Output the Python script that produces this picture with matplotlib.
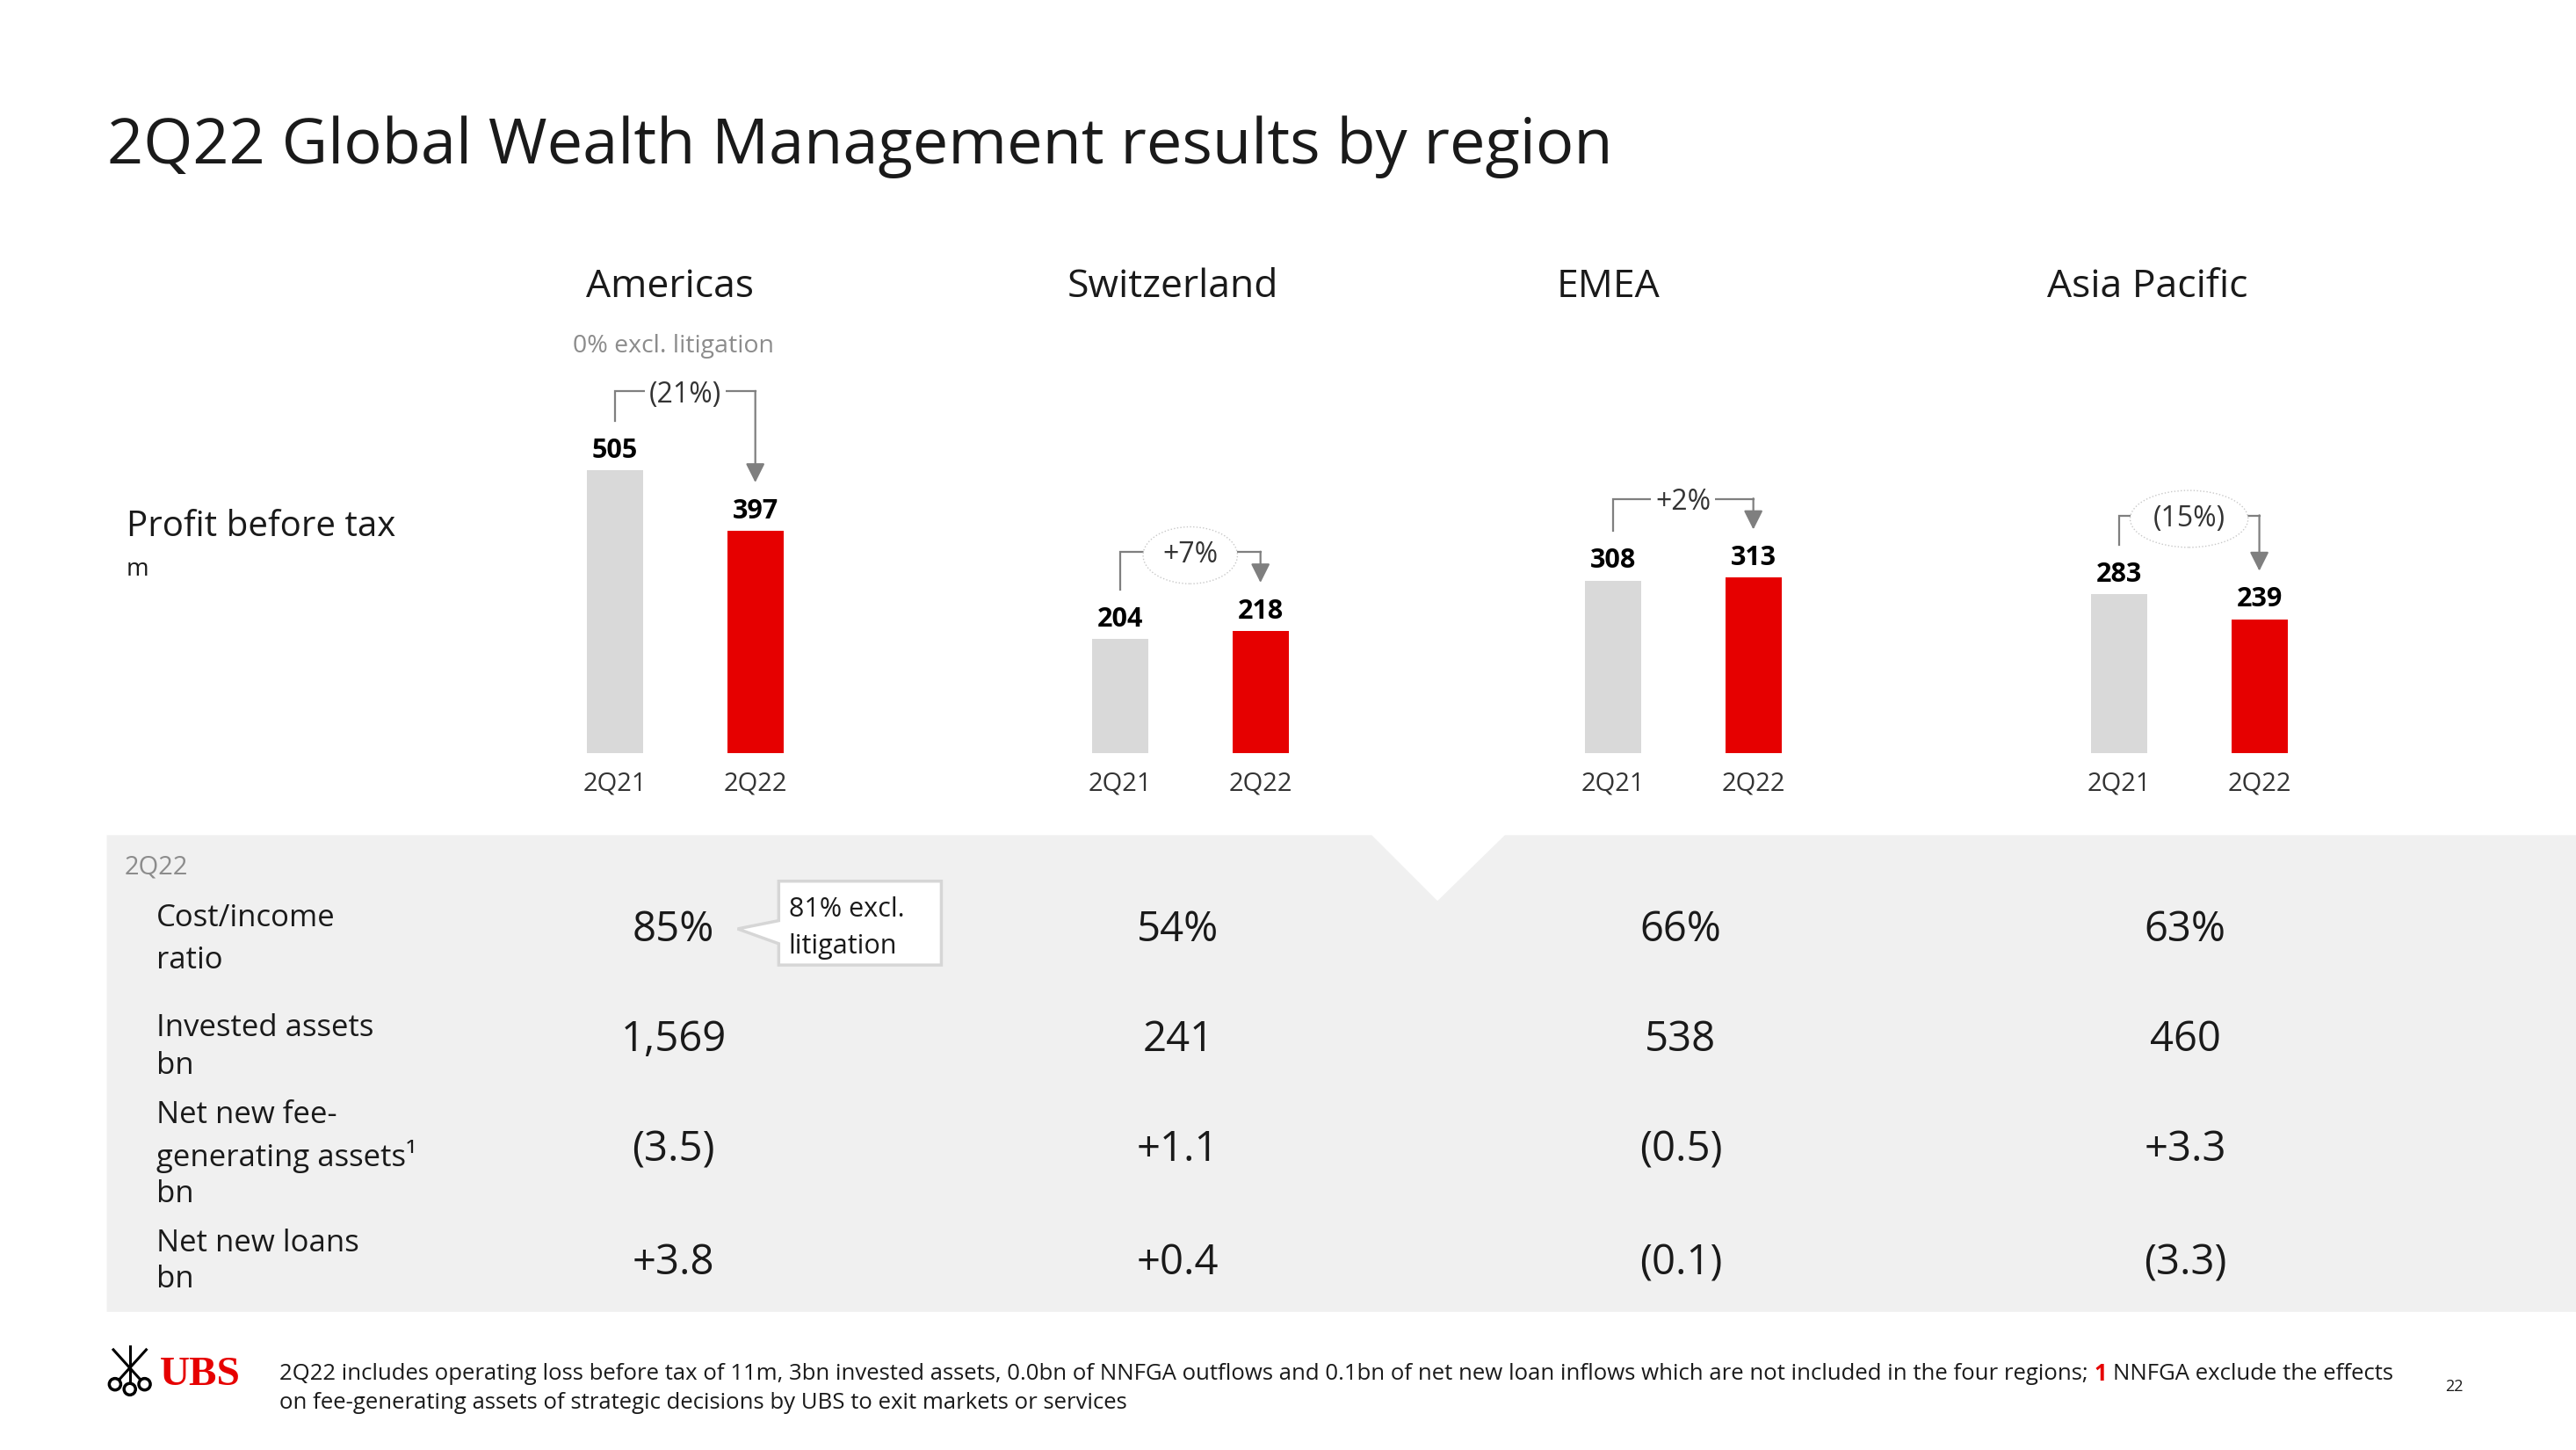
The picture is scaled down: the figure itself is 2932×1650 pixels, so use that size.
import matplotlib
matplotlib.use("Agg")
import matplotlib.pyplot as plt
from matplotlib.patches import Polygon, Ellipse
from matplotlib.lines import Line2D

plt.rcParams['font.family'] = ['Open Sans', 'DejaVu Sans']

# data
regions = ['Americas', 'Switzerland', 'EMEA', 'Asia Pacific']
quarters = ['2Q21', '2Q22']
pbt_2q21 = [505, 204, 308, 283]
pbt_2q22 = [397, 218, 313, 239]
pbt_change = ['(21%)', '+7%', '+2%', '(15%)']
change_ellipse = [False, True, False, True]

row_labels = [['Cost/income', 'ratio'],
              ['Invested assets', 'bn'],
              ['Net new fee-', 'generating assets\u00b9', 'bn'],
              ['Net new loans', 'bn']]
cost_income = ['85%', '54%', '66%', '63%']
invested_assets = ['1,569', '241', '538', '460']
nnfga = ['(3.5)', '+1.1', '(0.5)', '+3.3']
net_new_loans = ['+3.8', '+0.4', '(0.1)', '(3.3)']

RED = '#e60000'
GREY_BAR = '#d9d9d9'
LINE = '#7f7f7f'
TXT = '#1a1a1a'
GREY_TXT = '#8c8c8c'
PANEL = '#f0f0f0'

W, H = 1568, 882   # layout grid (reference pixels)
TY = 2.5           # Open Sans sits a bit high with va='center'


def fx(x):
    return x / W


def fy(y):
    return 1 - y / H


def fyt(y):
    return 1 - (y + TY) / H


fig = plt.figure(figsize=(29.32, 16.5), dpi=100)
fig.patch.set_facecolor('white')

fig.text(fx(65), fyt(87), '2Q22 Global Wealth Management results by region',
         fontsize=52, color=TXT, ha='left', va='center')

# region headers
header_x = [408, 714, 979, 1307]
for name, hx in zip(regions, header_x):
    fig.text(fx(hx), fyt(172), name, fontsize=32, color=TXT, ha='center', va='center')
fig.text(fx(410), fyt(208), '0% excl. litigation', fontsize=20.5, color=GREY_TXT,
         ha='center', va='center')

fig.text(fx(77), fyt(318), 'Profit before tax', fontsize=29, color=TXT, va='center')
fig.text(fx(77), fyt(344), 'm', fontsize=20, color=TXT, va='center')

# bar panels: one axes per region, same y scale
scale = 0.3406          # layout px per CHF m
ymax = 700
ax_left = [331.5, 639, 939, 1247]
unit_px = 85.5
for i in range(len(regions)):
    left = ax_left[i]
    ax = fig.add_axes([fx(left), fy(458), (2 * unit_px) / W, ymax * scale / H])
    ax.set_xlim(-0.5, 1.5)
    ax.set_ylim(0, ymax)
    a, b = pbt_2q21[i], pbt_2q22[i]
    ax.bar([0, 1], [a, b], width=0.4, color=[GREY_BAR, RED])
    for xv, v in zip([0, 1], [a, b]):
        ax.text(xv, v + 35, str(v), ha='center', va='center', fontsize=22,
                fontweight='bold', color='black')
    top = max(a, b) + 141
    ax.plot([0, 0, 1], [a + 88, top, top], color=LINE, lw=1.6, clip_on=False,
            solid_joinstyle='miter')
    ax.annotate('', xy=(1, b + 86), xytext=(1, top + 0.5),
                arrowprops=dict(arrowstyle='-|>,head_length=0.6,head_width=0.3',
                                color=LINE, lw=1.6, shrinkA=0, shrinkB=0,
                                mutation_scale=22), annotation_clip=False)
    if change_ellipse[i]:
        box = dict(boxstyle='ellipse,pad=0.2', fc='white', ec='#c8c8c8', lw=1, ls=':')
    else:
        box = dict(boxstyle='square,pad=0.15', fc='white', ec='none')
    ax.text(0.5, top - 6, pbt_change[i], ha='center', va='center', fontsize=23,
            color='#333333', bbox=box, zorder=5)
    ax.set_xticks([0, 1])
    ax.set_xticklabels(quarters, fontsize=21, color='#333333')
    ax.tick_params(axis='x', length=0, pad=15)
    ax.set_yticks([])
    for s in ax.spines.values():
        s.set_visible(False)
    ax.patch.set_alpha(0)

# table panel with notch
pts = [(65, 508), (835, 508), (875, 548), (916, 508), (1568, 508), (1568, 798), (65, 798)]
fig.patches.append(Polygon([(fx(x), fy(y)) for x, y in pts], closed=True,
                           transform=fig.transFigure, fc=PANEL, ec='none', zorder=0))
fig.text(fx(76), fyt(525), '2Q22', fontsize=21, color=GREY_TXT, va='center')

label_y = [[556, 582], [623, 646], [676, 701, 724], [754, 776]]
for lines, ys in zip(row_labels, label_y):
    for txt, yy in zip(lines, ys):
        fig.text(fx(95), fyt(yy), txt, fontsize=25, color=TXT, va='center')

col_x = [410, 717, 1023, 1330]
row_y = [563, 630, 697, 766]
for vals, yy in zip([cost_income, invested_assets, nnfga, net_new_loans], row_y):
    for v, cx in zip(vals, col_x):
        fig.text(fx(cx), fyt(yy), v, fontsize=34, color=TXT, ha='center', va='center')

# callout
call = [(474, 536), (573, 536), (573, 587), (474, 587), (474, 574), (449, 565), (474, 560)]
fig.patches.append(Polygon([(fx(x), fy(y)) for x, y in call], closed=True,
                           transform=fig.transFigure, fc='white', ec='#d6d6d6',
                           lw=2.5, zorder=1, joinstyle='miter'))
fig.text(fx(480), fyt(551), '81% excl.', fontsize=22, color=TXT, va='center')
fig.text(fx(480), fyt(573), 'litigation', fontsize=22, color=TXT, va='center')

# UBS logo (keys + wordmark)
for (x0, y0, x1, y1) in [(70, 842, 89, 821), (88, 842, 69, 821), (79, 845, 79, 819)]:
    fig.lines.append(Line2D([fx(x0), fx(x1)], [fy(y0), fy(y1)], transform=fig.transFigure,
                            color='black', lw=2.2))
for (cx, cy) in [(70, 842), (88, 842), (79, 845)]:
    fig.patches.append(Ellipse((fx(cx), fy(cy)), 7 / W, 7 / H, transform=fig.transFigure,
                               fc='white', ec='black', lw=2.5, zorder=3))
fig.text(fx(97), fyt(834), 'UBS', fontsize=34, fontweight='bold', color=RED,
         family='Liberation Serif', va='center')

# footnote with red "1"
FOOT_FS = 18.5
foot_kw = dict(fontsize=FOOT_FS, color=TXT, va='center')
part1 = ('2Q22 includes operating loss before tax of 11m, 3bn invested assets, 0.0bn of NNFGA '
         'outflows and 0.1bn of net new loan inflows which are not included in the four regions;')
part3 = 'NNFGA exclude the effects'
line2 = 'on fee-generating assets of strategic decisions by UBS to exit markets or services'

rend = fig.canvas.get_renderer()
fig_w_px = fig.get_figwidth() * fig.dpi


def text_w(s):
    t = fig.text(0, 0, s, **foot_kw)
    w = t.get_window_extent(rend).width
    t.remove()
    return w / fig_w_px


space = text_w('a a') - text_w('aa')
x = fx(170)
fig.text(x, fyt(833), part1, **foot_kw)
x += text_w(part1) + space
fig.text(x, fyt(833), '1', fontsize=FOOT_FS, fontweight='bold', color=RED, va='center')
x += text_w('1') + space
fig.text(x, fyt(833), part3, **foot_kw)
fig.text(fx(170), fyt(851), line2, **foot_kw)
fig.text(fx(1494), fyt(841), '22', fontsize=13, color=TXT, ha='center', va='center')

fig.savefig('out.png', dpi=100)
